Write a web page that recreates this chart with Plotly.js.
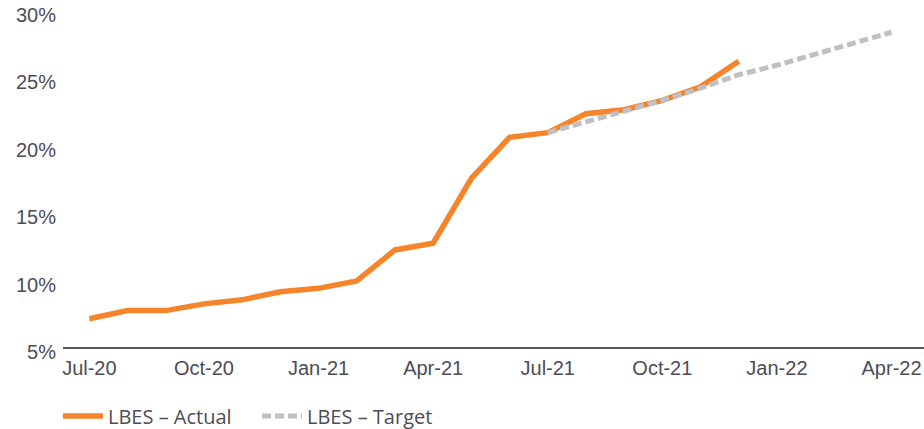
<!DOCTYPE html>
<html>
<head>
<meta charset="utf-8">
<script src="https://cdn.plot.ly/plotly-3.0.1.min.js"></script>
<style>html,body{margin:0;padding:0;background:#fff;}#chart{width:924px;height:429px;}</style>
</head>
<body>
<div id="chart"></div>
<script>
const months = ['Jul-20','Aug-20','Sep-20','Oct-20','Nov-20','Dec-20','Jan-21','Feb-21','Mar-21','Apr-21','May-21','Jun-21','Jul-21','Aug-21','Sep-21','Oct-21','Nov-21','Dec-21','Jan-22','Feb-22','Mar-22','Apr-22'];
const actualMonths = months.slice(0, 18);
const actualValues = [7.1, 7.7, 7.7, 8.2, 8.5, 9.1, 9.35, 9.9, 12.2, 12.7, 17.5, 20.55, 20.9, 22.3, 22.6, 23.3, 24.3, 26.2];
const targetMonths = months.slice(12);
const targetValues = [20.9, 21.7, 22.5, 23.3, 24.2, 25.2, 25.9, 26.7, 27.5, 28.35];
const tickMonths = ['Jul-20','Oct-20','Jan-21','Apr-21','Jul-21','Oct-21','Jan-22','Apr-22'];
const yTicks = [5, 10, 15, 20, 25, 30];
const yTickText = ['5%','10%','15%','20%','25%','30%'];

const txt = '#4d4d57';
const data = [
  {x: actualMonths, y: actualValues, type: 'scatter', mode: 'lines', name: 'LBES \u2013 Actual',
   line: {color: '#f5842a', width: 5.5}},
  {x: targetMonths, y: targetValues, type: 'scatter', mode: 'lines', name: 'LBES \u2013 Target',
   line: {color: '#c0c0c4', width: 5, dash: '9px,4px'}}
];
const layout = {
  width: 924, height: 429,
  margin: {l: 63, r: 0, t: 10, b: 82},
  paper_bgcolor: '#fff', plot_bgcolor: '#fff',
  font: {family: 'Arial, "Liberation Sans", sans-serif', color: txt, size: 20},
  showlegend: true,
  legend: {orientation: 'h', xref: 'container', yref: 'container', x: 58/924, y: 1 - 416/429,
    xanchor: 'left', yanchor: 'middle', font: {family: '"Open Sans", sans-serif', size: 20, color: txt},
    itemwidth: 40, entrywidth: 144, tracegroupgap: 0},
  xaxis: {type: 'category', categoryorder: 'array', categoryarray: months,
    range: [-0.69, 21.85], showgrid: false, zeroline: false, showline: true,
    linecolor: '#55555f', linewidth: 2, ticks: '', tickmode: 'array',
    tickvals: tickMonths, ticktext: tickMonths, ticklabelstandoff: 2,
    ticklabeloverflow: 'allow', tickfont: {size: 20, color: txt}},
  yaxis: {range: [5, 30], showgrid: false, zeroline: false, showline: false, ticks: '',
    tickmode: 'array', tickvals: yTicks, ticktext: yTickText, ticklabelstandoff: 6,
    ticklabelshift: 5, ticklabeloverflow: 'allow', tickfont: {size: 20, color: txt}}
};
Plotly.newPlot('chart', data, layout, {staticPlot: true, displayModeBar: false});
</script>
</body>
</html>
